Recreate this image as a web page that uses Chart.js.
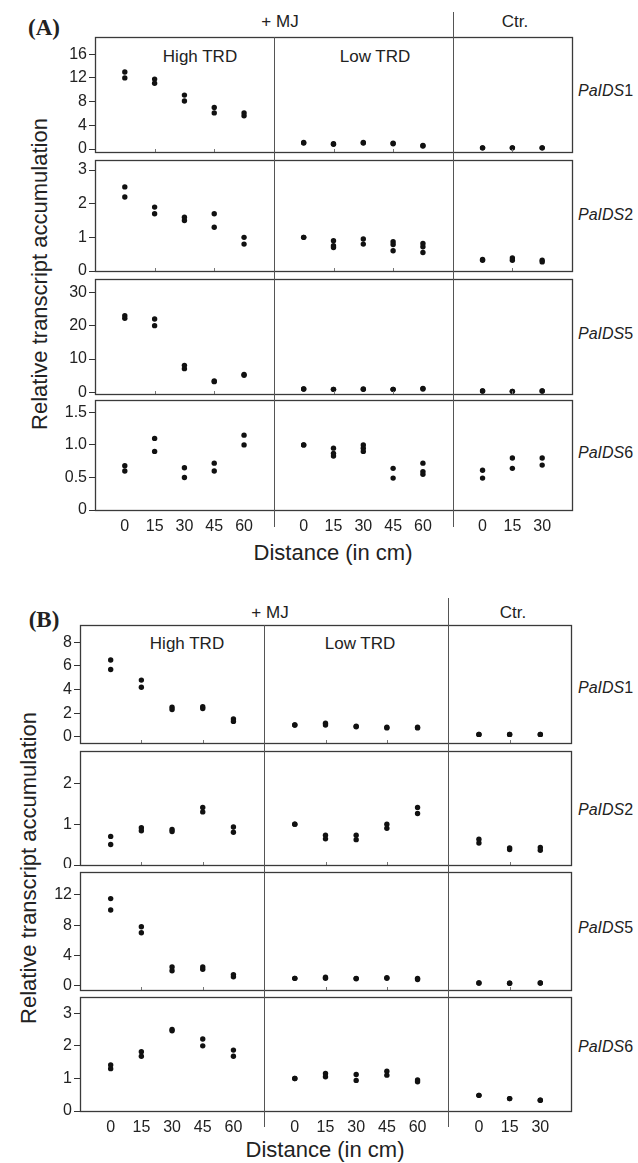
<!DOCTYPE html>
<html>
<head>
<meta charset="utf-8">
<script src="https://cdn.jsdelivr.net/npm/chart.js@4"></script>
<style>
  body { margin: 0; width: 638px; height: 1163px; position: relative; overflow: hidden; background: #fff;
         font-family: "Liberation Sans", Arial, sans-serif; color: #222; }
  canvas { position: absolute; left: 0; }
  .c, .l { position: absolute; white-space: nowrap; line-height: 1; }
  .c { transform: translate(-50%, -50%); }
  .l { transform: translate(0, -50%); }
  .rot { transform: translate(-50%, -50%) rotate(-90deg); }
  .panel { font-family: "Liberation Serif", "Times New Roman", serif; font-weight: bold; font-size: 23px; }
  .grp { font-size: 17px; }
  .gene { font-size: 16px; }
  .ttl { font-size: 22px; }
</style>
</head>
<body>

<div class="c panel" style="left:44px; top:27px;">(A)</div>
<div class="c grp" style="left:280px; top:21px;">+ MJ</div>
<div class="c grp" style="left:515px; top:21px;">Ctr.</div>
<div class="c grp" style="left:200px; top:56px;">High TRD</div>
<div class="c grp" style="left:375px; top:56px;">Low TRD</div>
<div class="l gene" style="left:578px; top:91px;"><i>PaIDS</i>1</div>
<div class="l gene" style="left:578px; top:215px;"><i>PaIDS</i>2</div>
<div class="l gene" style="left:578px; top:334px;"><i>PaIDS</i>5</div>
<div class="l gene" style="left:578px; top:453px;"><i>PaIDS</i>6</div>
<div class="c rot ttl" style="left:40px; top:274px;">Relative transcript accumulation</div>
<div class="c ttl" style="left:333px; top:553px;">Distance (in cm)</div>

<div class="c panel" style="left:44px; top:619px;">(B)</div>
<div class="c grp" style="left:270px; top:612px;">+ MJ</div>
<div class="c grp" style="left:513px; top:612px;">Ctr.</div>
<div class="c grp" style="left:187px; top:643px;">High TRD</div>
<div class="c grp" style="left:360px; top:643px;">Low TRD</div>
<div class="l gene" style="left:578px; top:688px;"><i>PaIDS</i>1</div>
<div class="l gene" style="left:578px; top:810px;"><i>PaIDS</i>2</div>
<div class="l gene" style="left:578px; top:928px;"><i>PaIDS</i>5</div>
<div class="l gene" style="left:578px; top:1047px;"><i>PaIDS</i>6</div>
<div class="c rot ttl" style="left:29px; top:868px;">Relative transcript accumulation</div>
<div class="c ttl" style="left:325px; top:1150px;">Distance (in cm)</div>

<script>
// groups along the x axis and their distances (cm)
const groups = ['High TRD', 'Low TRD', 'Ctr.'];
const distances = [[0, 15, 30, 45, 60], [0, 15, 30, 45, 60], [0, 15, 30]];

// (A) replicate values per distance, in the order above
const aIDS1 = [[13, 12], [11.8, 11.1], [9.1, 8.1], [7.0, 6.1], [6.1, 5.6],
               [1.1, 1.0], [0.9, 0.8], [1.1, 1.0], [1.0, 0.9], [0.6, 0.5],
               [0.2, 0.2], [0.2, 0.2], [0.2, 0.2]];
const aIDS2 = [[2.5, 2.2], [1.9, 1.7], [1.6, 1.5], [1.7, 1.3], [1.0, 0.8],
               [1.0, 1.0], [0.9, 0.75, 0.7], [0.95, 0.8], [0.87, 0.79, 0.6], [0.82, 0.72, 0.55],
               [0.34, 0.32], [0.39, 0.32], [0.32, 0.27]];
const aIDS5 = [[23, 22.2], [22, 20], [8.1, 7.1], [3.4, 3.2], [5.4, 5.1],
               [1.0, 1.0], [0.9, 0.9], [1.0, 0.9], [0.9, 0.9], [1.2, 1.0],
               [0.4, 0.4], [0.3, 0.3], [0.4, 0.4]];
const aIDS6 = [[0.68, 0.60], [1.10, 0.90], [0.65, 0.50], [0.72, 0.60], [1.15, 1.0],
               [1.0, 1.0], [0.95, 0.87, 0.83], [1.0, 0.95, 0.90], [0.64, 0.49], [0.72, 0.59, 0.55],
               [0.61, 0.49], [0.80, 0.64], [0.80, 0.69]];

// (B)
const bIDS1 = [[6.5, 5.7], [4.8, 4.2], [2.5, 2.3], [2.55, 2.4], [1.5, 1.3],
               [1.0, 1.0], [1.15, 1.0], [0.9, 0.85], [0.8, 0.75], [0.8, 0.75],
               [0.2, 0.2], [0.2, 0.2], [0.2, 0.2]];
const bIDS2 = [[0.70, 0.50], [0.91, 0.84], [0.87, 0.82], [1.41, 1.30], [0.93, 0.80],
               [1.0, 1.0], [0.73, 0.64], [0.73, 0.62], [1.0, 0.9], [1.41, 1.26],
               [0.63, 0.54], [0.42, 0.38], [0.43, 0.36]];
const bIDS5 = [[11.5, 10.0], [7.8, 7.0], [2.5, 2.0], [2.5, 2.2], [1.5, 1.2],
               [1.0, 1.0], [1.15, 1.0], [1.0, 0.95], [1.1, 1.0], [1.0, 0.85],
               [0.4, 0.4], [0.35, 0.35], [0.4, 0.4]];
const bIDS6 = [[1.41, 1.30], [1.82, 1.68], [2.5, 2.46], [2.21, 2.0], [1.87, 1.68],
               [1.0, 1.0], [1.15, 1.05], [1.12, 0.94], [1.22, 1.1], [0.95, 0.9],
               [0.48, 0.48], [0.38, 0.38], [0.33, 0.33]];

// y tick values
const aTicks1 = [0, 4, 8, 12, 16];
const aTicks2 = [0, 1, 2, 3];
const aTicks5 = [0, 10, 20, 30];
const aTicks6 = [0, 0.5, 1.0, 1.5];
const aTickLabels6 = ['0', '0.5', '1.0', '1.5'];
const bTicks1 = [0, 2, 4, 6, 8];
const bTicks2 = [0, 1, 2];
const bTicks5 = [0, 4, 8, 12];
const bTicks6 = [0, 1, 2, 3];

// category slots: one empty slot between groups (where the divider goes)
const xPos = [], xLab = [], gaps = [];
let slot = 1;
distances.forEach(g => {
  g.forEach(d => { xPos.push(slot); xLab.push(String(d)); slot++; });
  gaps.push(slot); slot++;
});
const xMax = gaps.pop();   // last gap is the right edge

const FONT = { family: '"Liberation Sans", Arial, sans-serif', size: 16 };

// draws the box, small inner ticks and the group dividers
Chart.register({
  id: 'frame',
  afterDatasetsDraw(chart, args, o) {
    const { ctx, chartArea: a } = chart;
    const x = chart.scales.x;
    ctx.save();
    if (!o.last) {
      ctx.strokeStyle = '#777'; ctx.lineWidth = 1;
      for (let v = 2; v < xMax; v += 2) {
        const px = Math.round(x.getPixelForValue(v)) + 0.5;
        ctx.beginPath(); ctx.moveTo(px, a.bottom); ctx.lineTo(px, a.bottom - 3); ctx.stroke();
      }
    }
    ctx.strokeStyle = '#3a3a3a'; ctx.lineWidth = 1.3;
    ctx.strokeRect(Math.round(a.left) + 0.5, Math.round(a.top) + 0.5,
                   Math.round(a.right - a.left), Math.round(a.bottom - a.top));
    ctx.strokeStyle = '#555'; ctx.lineWidth = 1;
    gaps.forEach((g, i) => {
      const px = Math.round(x.getPixelForValue(g)) + 0.5;
      const y0 = o.first ? (i === 0 ? a.top : 4) : 0;
      const y1 = o.last ? a.bottom + o.tail : chart.height;
      ctx.beginPath(); ctx.moveTo(px, y0); ctx.lineTo(px, y1); ctx.stroke();
    });
    ctx.restore();
  }
});

function addChart(cfg) {
  const c = document.createElement('canvas');
  c.width = 638; c.height = cfg.bottom - cfg.top;
  c.style.top = cfg.top + 'px';
  document.body.appendChild(c);
  const pts = [];
  cfg.values.forEach((reps, i) => reps.forEach(v => pts.push({ x: xPos[i], y: v })));
  const [bl, br, bt, bb] = cfg.box;
  const xH = cfg.last ? 24 : 0;
  new Chart(c, {
    type: 'scatter',
    data: { datasets: [{ data: pts, pointRadius: 2.7, pointHoverRadius: 2.7,
                         backgroundColor: '#111', borderWidth: 0, clip: false }] },
    options: {
      responsive: false, animation: false, devicePixelRatio: 1, events: [],
      layout: { autoPadding: false,
                padding: { left: 0, right: 638 - br, top: bt - cfg.top, bottom: cfg.bottom - bb - xH } },
      plugins: { legend: { display: false }, tooltip: { enabled: false },
                 frame: { first: !!cfg.first, last: !!cfg.last, tail: cfg.tail || 0 } },
      scales: {
        x: {
          type: 'linear', min: 0, max: xMax,
          afterBuildTicks: s => { s.ticks = xPos.map(v => ({ value: v })); },
          afterFit: s => { s.height = xH; s.paddingLeft = 0; s.paddingRight = 0; },
          ticks: { display: !!cfg.last, autoSkip: false, maxRotation: 0, padding: 7,
                   callback: (v, i) => xLab[i], font: FONT, color: '#222' },
          grid: { display: false, drawTicks: false },
          border: { display: false }
        },
        y: {
          min: cfg.min, max: cfg.max,
          afterBuildTicks: s => { s.ticks = cfg.ticks.map(v => ({ value: v })); },
          afterFit: s => { s.width = bl; s.paddingTop = 0; s.paddingBottom = 0; },
          ticks: { autoSkip: false, padding: 2, font: FONT, color: '#222',
                   callback: (v, i) => cfg.labels ? cfg.labels[i] : String(v) },
          grid: { drawOnChartArea: false, drawTicks: true, tickLength: 6, color: '#333' },
          border: { display: false }
        }
      }
    }
  });
}

// panel (A)
addChart({ top: 8,   bottom: 156, box: [95, 572, 37, 152],  values: aIDS1, min: -0.5, max: 18.9, ticks: aTicks1, first: true });
addChart({ top: 156, bottom: 275, box: [95, 572, 160, 271], values: aIDS2, min: 0, max: 3.3, ticks: aTicks2 });
addChart({ top: 275, bottom: 397, box: [95, 572, 279, 394], values: aIDS5, min: -0.5, max: 34, ticks: aTicks5 });
addChart({ top: 397, bottom: 540, box: [95, 572, 400, 510], values: aIDS6, min: 0, max: 1.69, ticks: aTicks6,
           labels: aTickLabels6, last: true, tail: 17 });

// panel (B)
addChart({ top: 594, bottom: 747, box: [80, 571, 625, 743],   values: bIDS1, min: -0.53, max: 9.47, ticks: bTicks1, first: true });
addChart({ top: 747, bottom: 868, box: [80, 571, 751, 865],   values: bIDS2, min: 0, max: 2.79, ticks: bTicks2 });
addChart({ top: 868, bottom: 993, box: [80, 571, 872, 990],   values: bIDS5, min: -0.53, max: 15.0, ticks: bTicks5 });
addChart({ top: 993, bottom: 1140, box: [80, 571, 997, 1111], values: bIDS6, min: 0, max: 3.5, ticks: bTicks6,
           last: true, tail: 16 });
</script>
</body>
</html>
